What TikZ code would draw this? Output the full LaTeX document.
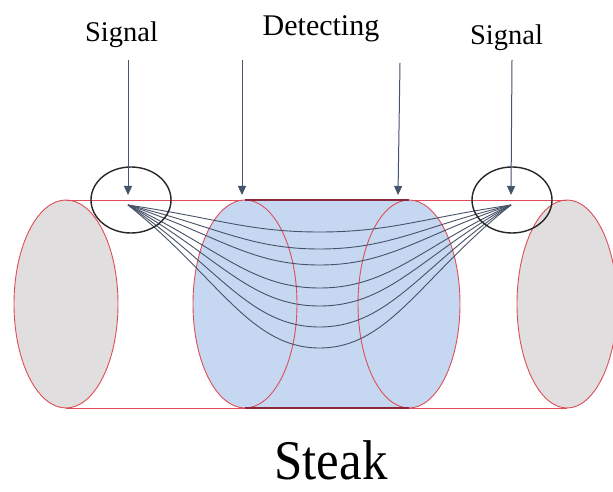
\documentclass[tikz,border=0pt]{standalone}
\usepackage{fontspec}
\setmainfont{Liberation Serif}
\usetikzlibrary{arrows.meta,calc}
\definecolor{rimred}{RGB}{222,78,88}
\definecolor{darkrim}{RGB}{140,40,60}
\definecolor{meatgray}{RGB}{224,222,222}
\definecolor{zoneblue}{RGB}{198,215,242}
\definecolor{pathline}{RGB}{70,82,104}
\definecolor{probe}{RGB}{90,104,128}
\definecolor{probehead}{RGB}{68,84,106}
\tikzset{
  rim/.style={draw=rimred, line width=0.9pt},
  endface/.style={rim, fill=meatgray},
  sensor/.style={draw=black!85, line width=1.4pt},
  ray/.style={draw=pathline, line width=0.9pt},
  probearrow/.style={draw=probe, line width=1pt, -{Triangle[length=9pt,width=8pt]}, color=probehead},
  label/.style={font=\fontsize{28.5}{30}\selectfont, inner sep=0pt},
}
\begin{document}
\begin{tikzpicture}[x=1pt,y=1pt]
\useasboundingbox (0,0) rectangle (613,492);
\fill[white] (0,0) rectangle (613,492);

% outer end faces of the steak
\path[endface] (66,188) ellipse [x radius=52, y radius=104];
\path[endface] (567,188) ellipse [x radius=50, y radius=104];

% cylinder outline
\draw[rim] (66,292) -- (567,292);
\draw[rim] (66,84) -- (567,84);

% detecting zone (blue slab)
\fill[zoneblue] (245,188) ellipse [x radius=52, y radius=104];
\fill[zoneblue] (409,188) ellipse [x radius=51, y radius=104];
\fill[zoneblue] (245,84) rectangle (409,292);
\draw[rim] (245,188) ellipse [x radius=52, y radius=104];
\draw[rim] (409,188) ellipse [x radius=51, y radius=104];
\draw[darkrim, line width=1.3pt] (245,292) -- (409,292);
\draw[darkrim, line width=1.3pt] (245,84) -- (409,84);

% signal source points and propagation paths
\coordinate (src) at (128,287);
\coordinate (dst) at (511,287);
\foreach \yb in {260,243,227,204,186,165,144} {
  \pgfmathsetmacro{\dep}{287-\yb}
  \coordinate (mid) at (319.5,\yb);
  \draw[ray] (src) .. controls ($(src)+(90,-0.5*\dep)$) and ($(mid)+(-70,0)$) .. (mid)
             .. controls ($(mid)+(70,0)$) and ($(dst)+(-90,-0.5*\dep)$) .. (dst);
}

% sensor regions
\draw[sensor] (131,292) ellipse [x radius=40, y radius=33];
\draw[sensor] (512,292) ellipse [x radius=40, y radius=33];

% labels
\node[label] (sigL) at (121.5,457) {Signal};
\node[label, font=\fontsize{30}{32}\selectfont] (det) at (321,463) {Detecting};
\node[label] (sigR) at (506.5,454) {Signal};
\node[inner sep=0pt, anchor=base, font=\fontsize{56}{60}\selectfont, xscale=0.91] (steak) at (331,12) {Steak};

% probe arrows
\coordinate (a1s) at (128,432); \coordinate (a1e) at (128,297);
\coordinate (a2s) at (242,432); \coordinate (a2e) at (242,297);
\coordinate (a3s) at (400,429); \coordinate (a3e) at (398,297);
\coordinate (a4s) at (512,432); \coordinate (a4e) at (511,297);
\draw[probearrow] (a1s) -- (a1e);
\draw[probearrow] (a2s) -- (a2e);
\draw[probearrow] (a3s) -- (a3e);
\draw[probearrow] (a4s) -- (a4e);
\end{tikzpicture}
\end{document}
